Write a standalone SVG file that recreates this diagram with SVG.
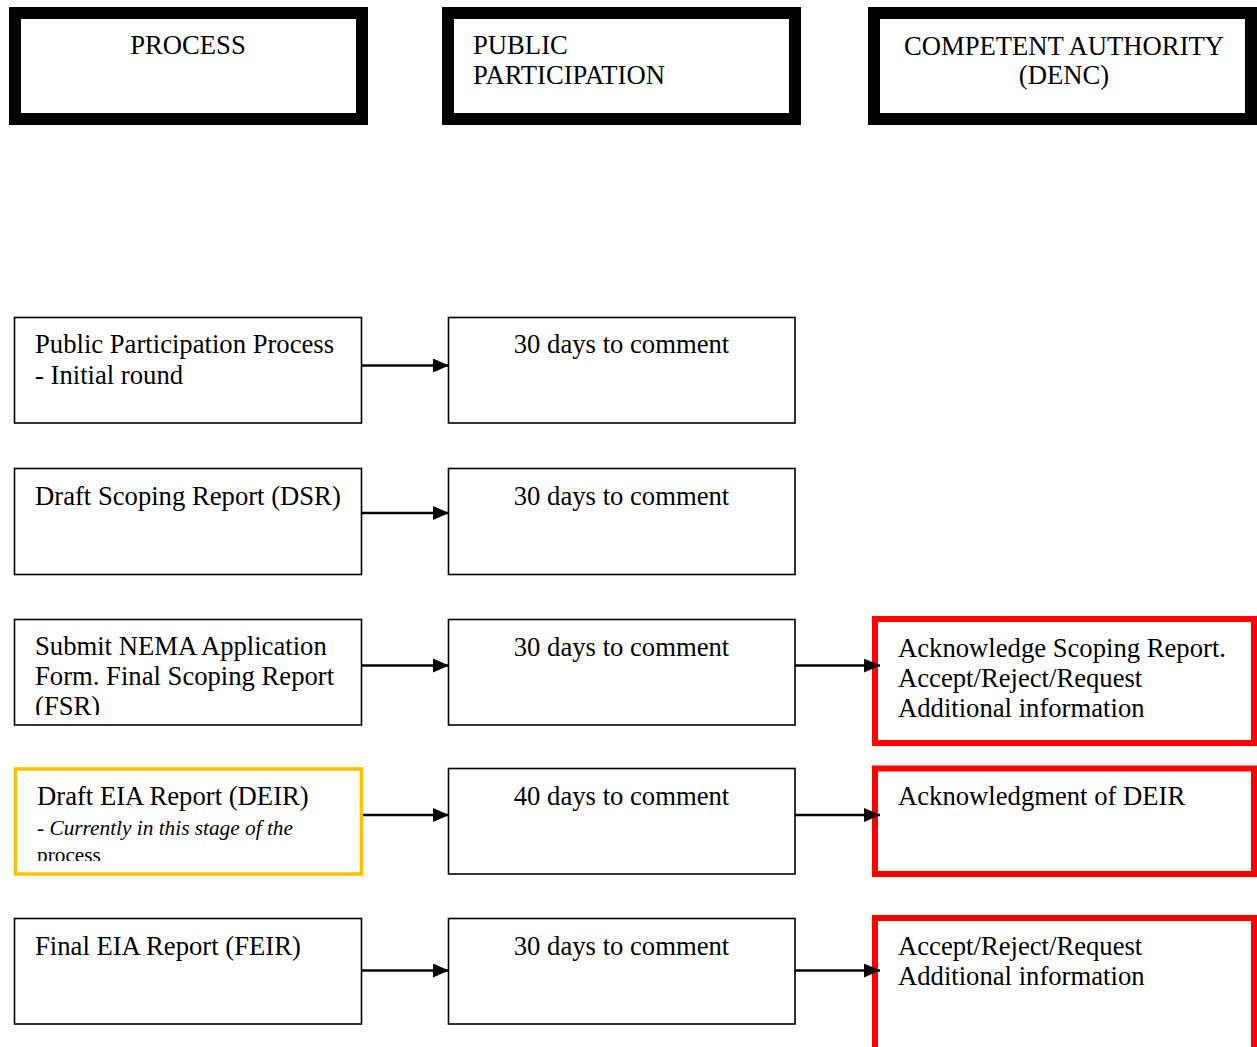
<svg xmlns="http://www.w3.org/2000/svg" width="1257" height="1047" viewBox="0 0 1257 1047">
<style>
text{font-family:"Liberation Serif","Times New Roman",serif;font-size:26.67px;fill:#000}
.hdr{fill:#fff;stroke:#000;stroke-width:12}
.box{fill:#fff;stroke:#000;stroke-width:1.6}
.cur{fill:#fff;stroke:#FFC000;stroke-width:3.5}
.ca{fill:#fff;stroke:#FF0000;stroke-width:6}
.mid{text-anchor:middle}
.it{font-size:21.3px}
.conn{stroke:#000;stroke-width:2.5;fill:none;marker-end:url(#ah)}
</style>
<defs>
<marker id="ah" markerUnits="userSpaceOnUse" markerWidth="16" markerHeight="14" refX="16" refY="7" orient="auto">
<path d="M0,0 L16,7 L0,14 Z" fill="#000"/>
</marker>
<clipPath id="c3"><rect x="14" y="619" width="348" height="96"/></clipPath>
<clipPath id="c4"><rect x="14" y="767" width="348" height="94"/></clipPath>
</defs>
<rect width="1257" height="1047" fill="#fff"/>

<g id="hdr-process"><rect class="hdr" x="15" y="13" width="347" height="106"/><text class="mid" x="188" y="54">PROCESS</text></g>
<g id="hdr-public"><rect class="hdr" x="448" y="13" width="347" height="106"/><text x="473" y="54">PUBLIC</text><text x="473" y="84">PARTICIPATION</text></g>
<g id="hdr-authority"><rect class="hdr" x="874" y="13" width="377" height="106"/><text class="mid" x="1064" y="55">COMPETENT AUTHORITY</text><text class="mid" x="1064" y="84">(DENC)</text></g>

<g id="p1"><rect class="box" x="14.5" y="317.5" width="347" height="105.5"/><text x="35" y="353">Public Participation Process</text><text x="35" y="384">- Initial round</text></g>
<g id="p2"><rect class="box" x="14.5" y="468.5" width="347" height="106"/><text x="35" y="505">Draft Scoping Report (DSR)</text></g>
<g id="p3"><rect class="box" x="14.5" y="619.5" width="347" height="105.5"/><g clip-path="url(#c3)"><text x="35" y="655">Submit NEMA Application</text><text x="35" y="685">Form. Final Scoping Report</text><text x="35" y="715">(FSR)</text></g></g>
<g id="p4"><rect class="cur" x="15.5" y="769" width="346" height="105"/><g clip-path="url(#c4)"><text x="37" y="805">Draft EIA Report (DEIR)</text><text class="it" x="37" y="835">- <tspan font-style="italic">Currently in this stage of the</tspan></text><text class="it" x="37" y="862">process</text></g></g>
<g id="p5"><rect class="box" x="14.5" y="918.5" width="347" height="105.5"/><text x="35" y="955">Final EIA Report (FEIR)</text></g>

<g id="c1"><rect class="box" x="448.5" y="317.5" width="346.5" height="105.5"/><text class="mid" x="621.5" y="353">30 days to comment</text></g>
<g id="c2"><rect class="box" x="448.5" y="468.5" width="346.5" height="106"/><text class="mid" x="621.5" y="505">30 days to comment</text></g>
<g id="c3b"><rect class="box" x="448.5" y="619.5" width="346.5" height="105.5"/><text class="mid" x="621.5" y="656">30 days to comment</text></g>
<g id="c4b"><rect class="box" x="448.5" y="768.5" width="346.5" height="105.5"/><text class="mid" x="621.5" y="805">40 days to comment</text></g>
<g id="c5"><rect class="box" x="448.5" y="918.5" width="346.5" height="105.5"/><text class="mid" x="621.5" y="955">30 days to comment</text></g>

<g id="a3"><rect class="ca" x="875" y="619" width="379" height="124"/><text x="898" y="657">Acknowledge Scoping Report.</text><text x="898" y="687">Accept/Reject/Request</text><text x="898" y="717">Additional information</text></g>
<g id="a4"><rect class="ca" x="875" y="768.5" width="379" height="105.5"/><text x="898" y="805">Acknowledgment of DEIR</text></g>
<g id="a5"><rect class="ca" x="875" y="918" width="379" height="140"/><text x="898" y="955">Accept/Reject/Request</text><text x="898" y="985">Additional information</text></g>

<g id="connectors">
<line class="conn" x1="362" y1="365.5" x2="449" y2="365.5"/>
<line class="conn" x1="362" y1="513" x2="449" y2="513"/>
<line class="conn" x1="362" y1="665.5" x2="449" y2="665.5"/>
<line class="conn" x1="363" y1="815" x2="449" y2="815"/>
<line class="conn" x1="362" y1="970.5" x2="449" y2="970.5"/>
<line class="conn" x1="795" y1="665.5" x2="880" y2="665.5"/>
<line class="conn" x1="795" y1="815" x2="880" y2="815"/>
<line class="conn" x1="795" y1="970.5" x2="880" y2="970.5"/>
</g>
</svg>
